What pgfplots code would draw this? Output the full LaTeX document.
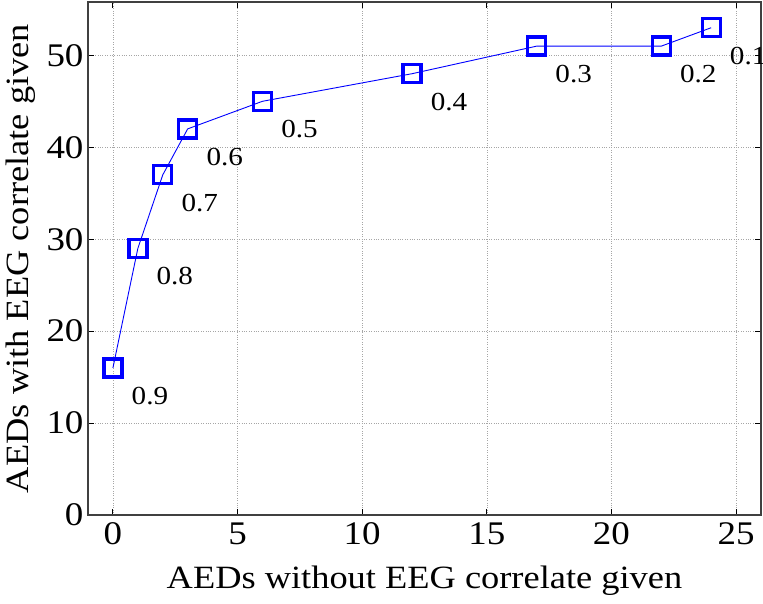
\documentclass[border=0pt]{standalone}
\usepackage{pgfplots}
\pgfplotsset{compat=1.18}
\usepackage{fontspec}
\setmainfont{Liberation Serif}[FakeStretch=1.12]
\begin{document}
\begin{tikzpicture}[x=1pt,y=1pt]
\begin{axis}[
  scale only axis,
  width=673pt, height=513pt,
  xmin=-1, xmax=26, ymin=0, ymax=55.8,
  xtick={0,5,10,15,20,25},
  ytick={0,10,20,30,40,50},
  tick align=inside,
  major tick length=6pt,
  grid=major,
  grid style={black!35, dotted, line width=0.6pt},
  axis line style={black!75, line width=1.2pt},
  tick style={black, line width=1pt},
  /pgf/number format/assume math mode=true,
  tick label style={font=\fontsize{33}{36}\selectfont},
  xticklabel style={yshift=-4pt},
  yticklabel style={xshift=-1pt},
  xlabel={AEDs without EEG correlate given},
  ylabel={AEDs with EEG correlate given},
  label style={font=\fontsize{32.5}{35}\selectfont},
  xlabel style={at={(axis description cs:0.5,-0.128)}, anchor=center},
  ylabel style={at={(axis description cs:-0.1,0.5)}, anchor=center},
  clip=false,
]
\addplot[blue, line width=0.9pt, mark=square, mark size=9pt,
  mark options={line width=3.3pt, solid},
  nodes near coords, point meta=explicit symbolic,
  every node near coord/.style={anchor=center, xshift=37pt, yshift=-28pt, black, font=\fontsize{26}{28}\selectfont}]
  table[meta=l] {
x y l
0 16 0.9
1 29 0.8
2 37 0.7
3 42 0.6
6 45 0.5
12 48 0.4
17 51 0.3
22 51 0.2
24 53 0.1
};
\end{axis}
\pgfresetboundingbox
\path ([xshift=-88pt,yshift=-88pt]current axis.south west) rectangle ([xshift=2pt,yshift=2pt]current axis.north east);
\end{tikzpicture}
\end{document}
